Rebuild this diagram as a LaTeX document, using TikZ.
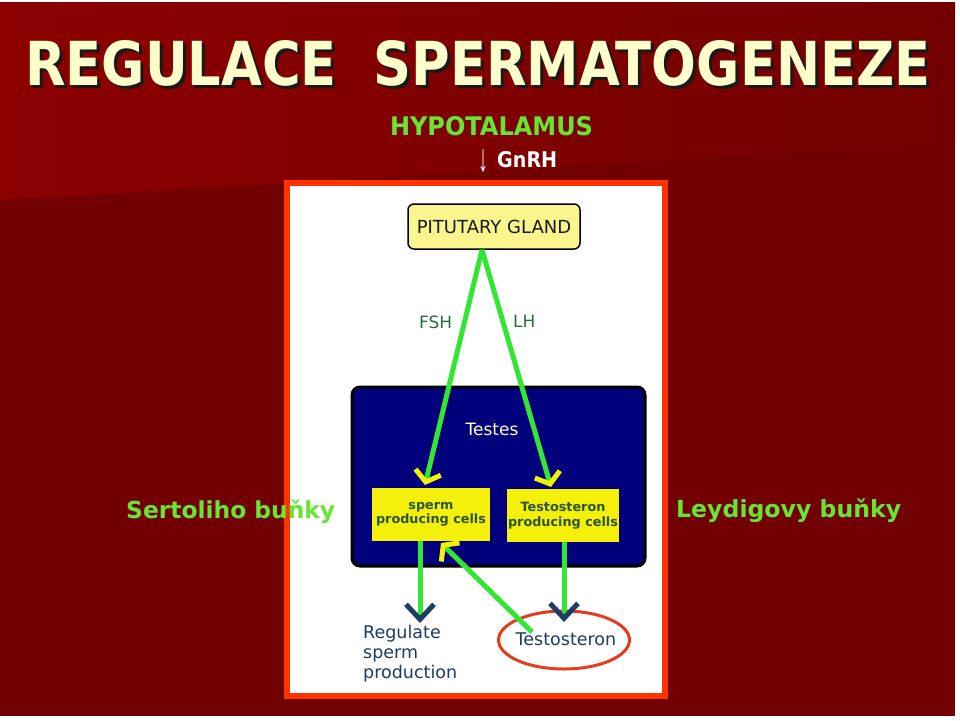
\documentclass[tikz,border=0pt]{standalone}
\usepackage{fontspec}
\usepackage{graphicx}
\setmainfont{DejaVu Sans}
\newfontfamily\arrowfont{Liberation Sans}
\usetikzlibrary{arrows.meta,shapes.geometric,calc}
\definecolor{bgdark}{RGB}{115,0,0}
\definecolor{bglight}{RGB}{140,0,0}
\definecolor{cream}{RGB}{255,255,204}
\definecolor{limeg}{RGB}{102,230,51}
\definecolor{panelred}{RGB}{255,51,0}
\definecolor{linegreen}{RGB}{51,230,51}
\definecolor{pitfill}{RGB}{250,245,140}
\definecolor{cellyellow}{RGB}{245,240,10}
\definecolor{testesblue}{RGB}{0,0,125}
\definecolor{olivetext}{RGB}{45,85,45}
\definecolor{hormtext}{RGB}{40,110,60}
\definecolor{navytext}{RGB}{30,60,100}
\definecolor{ellred}{RGB}{230,60,30}
\newcommand\mytitletext{\resizebox{905pt}{45pt}{\bfseries REGULACE\ \ SPERMATOGENEZE}}
\begin{document}
\begin{tikzpicture}[x=1pt,y=-1pt,
  greenlabel/.style={inner sep=0, text=limeg, font=\fontsize{24.7pt}{28pt}\selectfont\bfseries},
  cellbox/.style={rectangle, fill=cellyellow, inner sep=0, minimum height=53pt, align=center,
     text=olivetext, font=\fontsize{12.8pt}{14.5pt}\selectfont\bfseries},
  greenline/.style={draw=linegreen, line width=5pt},
  yellowhead/.style={-{Straight Barb[length=10pt,width=26pt,line width=5pt,color=cellyellow]}},
  navyhead/.style={-{Straight Barb[length=15pt,width=28pt,line width=5pt,color=navytext]}},
  diagtext/.style={inner sep=0, font=\fontsize{17.5pt}{20pt}\selectfont}
]
\useasboundingbox (0,0) rectangle (960,720);
\fill[white] (0,0) rectangle (960,720);
% slide background
\fill[bgdark] (0,2) rectangle (955,716);
\shade[left color=bglight, right color=bgdark] (0,2) -- (955,2) -- (955,143) -- (0,200) -- cycle;
% title
\node[anchor=north west, inner sep=0, text=black!90] (titleshadow) at (28,43) {\mytitletext};
\node[anchor=north west, inner sep=0, text=cream] (title) at (25,40) {\mytitletext};
% hypothalamus
\node[inner sep=0, text=limeg, font=\bfseries] (hypo) at (491.5,126.5) {\resizebox{203pt}{19pt}{HYPOTALAMUS}};
\node[inner sep=0, text=white, font=\bfseries, anchor=west] (gnrh) at (497,160) {\resizebox{60pt}{16pt}{GnRH}};
\node[inner sep=0, text=white] (gnarrow) at (483,161) {\resizebox*{10pt}{23pt}{\arrowfont ↓}};
% panel
\draw[panelred, line width=6pt, fill=white] (287,183) rectangle (665,696);
% side labels (drawn over the panel, as in the reference)
\node[greenlabel, anchor=base west] (sert) at (126,518) {\resizebox{209pt}{!}{Sertoliho buňky}};
\node[greenlabel, anchor=base west] (leyd) at (676,517) {\resizebox{225pt}{!}{Leydigovy buňky}};
% pituitary
\node[rectangle, rounded corners=6pt, draw=black, line width=1.5pt, fill=pitfill,
      minimum width=172pt, minimum height=45pt, inner sep=0,
      font=\fontsize{18pt}{20pt}\selectfont, text=black!90] (pit) at (494,226.5) {PITUTARY GLAND};
% testes box
\node[rectangle, rounded corners=8pt, draw=black, line width=3pt, fill=testesblue,
      minimum width=293pt, minimum height=179pt, inner sep=0] (testes) at (498.5,476.5) {};
\node[inner sep=0, text=cream, font=\fontsize{17pt}{19pt}\selectfont] (testeslbl) at (492,429) {Testes};
% cell boxes
\node[cellbox, minimum width=118pt] (sperm) at (431,514.5) {sperm\\producing cells};
\node[cellbox, minimum width=112pt] (testo) at (563,515.5) {Testosteron\\producing cells};
% bottom texts
\node[diagtext, text=navytext, align=left, anchor=north west] (regul) at (363,625) {Regulate\\sperm\\production};
\node[diagtext, text=navytext] (tout) at (566,639) {Testosteron};
\node[ellipse, draw=ellred, line width=3pt, minimum width=131pt, minimum height=58pt, inner sep=0] (ring) at (564,640) {};
% hormone labels
\node[inner sep=0, text=hormtext, font=\fontsize{17pt}{19pt}\selectfont, anchor=base west] (fsh) at (419,328) {FSH};
\node[inner sep=0, text=hormtext, font=\fontsize{17pt}{19pt}\selectfont, anchor=base west] (lh) at (513,327) {LH};
% coordinates
\coordinate (apex) at ($(pit.south)+(-12,0)$);
\coordinate (fshtip) at (425,485);
\coordinate (lhtip) at (551,487);
\coordinate (backtip) at (441,543);
\coordinate (backstart) at (532,632);
\coordinate (regtip) at (420,623);
\coordinate (ttip) at (564,622);
% connectors
\draw[greenline, yellowhead] (apex) -- (fshtip);
\draw[greenline, yellowhead] (apex) -- (lhtip);
\draw[greenline, navyhead] (sperm.south -| regtip) -- (regtip);
\draw[greenline, navyhead] (testo.south -| ttip) -- (ttip);
\draw[greenline, yellowhead] (backstart) -- (backtip);
\end{tikzpicture}
\end{document}
